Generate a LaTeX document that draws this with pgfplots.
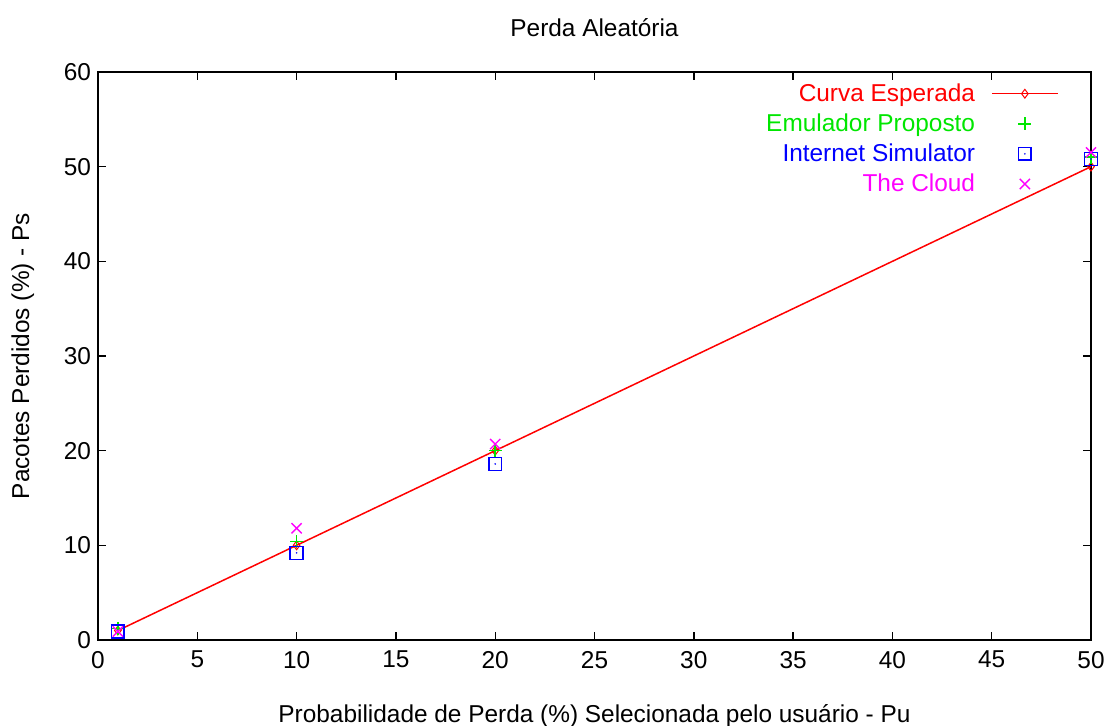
\documentclass[border=0pt]{standalone}
\usepackage{pgfplots}
\pgfplotsset{compat=1.18}
\usepackage{fontspec}
\setmainfont{Liberation Sans}
\definecolor{gred}{RGB}{255,0,0}
\definecolor{ggreen}{RGB}{0,230,0}
\definecolor{gblue}{RGB}{0,0,255}
\definecolor{gmag}{RGB}{255,0,255}
\pgfdeclareplotmark{sqdot}{%
  \pgfpathrectangle{\pgfqpoint{-\pgfplotmarksize}{-\pgfplotmarksize}}{\pgfqpoint{2\pgfplotmarksize}{2\pgfplotmarksize}}%
  \pgfusepathqstroke
  \pgfpathcircle{\pgfpointorigin}{0.45pt}\pgfusepathqfill}
\begin{document}
\begin{tikzpicture}
\useasboundingbox (-49pt,-43pt) rectangle (504.5pt,320pt);
\begin{axis}[
  at={(0,0)}, anchor=south west,
  scale only axis, width=496.5pt, height=284pt,
  xmin=0, xmax=50, ymin=0, ymax=60,
  xtick={0,5,...,50}, ytick={0,10,...,60},
  tick align=inside, major tick length=4pt,
  axis line style={line width=0.8pt},
  every tick/.style={black, line width=0.7pt},
  font=\fontsize{12.2}{14}\selectfont,
  /pgf/number format/assume math mode=true,
  xticklabel style={yshift=-2pt},
  yticklabel style={xshift=0pt},
  title={Perda Aleatória},
  title style={yshift=8pt},
  xlabel={Probabilidade de Perda (\%) Selecionada pelo usuário - Pu},
  ylabel={Pacotes Perdidos (\%) - Ps},
  xlabel style={yshift=-11pt},
  ylabel style={yshift=8pt},
  legend plot pos=right,
  legend cell align=right,
  legend image code/.code={\draw[mark repeat=2,mark phase=2,#1] plot coordinates {(0pt,0pt) (16.5pt,0pt) (33pt,0pt)};},
  legend style={at={(1,1)}, anchor=north east, xshift=-13pt, yshift=-1.5pt,
    draw=none, fill=none, font=\fontsize{12.2}{14}\selectfont,
    row sep=0.7pt},
]
\addplot[gred, line width=0.75pt, mark=diamond, mark size=2.2pt, mark options={solid, line width=0.5pt}]
  coordinates {(1,1) (10,10) (20,20) (50,50)};
\addlegendentry{\textcolor{gred}{Curva Esperada}\hspace*{6pt}}
\addplot[only marks, ggreen, mark=+, mark size=3.2pt, mark options={line width=0.8pt}]
  coordinates {(1,1.2) (10,10.4) (20,20.0) (50,51.0)};
\addlegendentry{\textcolor{ggreen}{Emulador Proposto}\hspace*{6pt}}
\addplot[only marks, gblue, mark=sqdot, mark size=3.2pt, mark options={line width=0.8pt}]
  coordinates {(1,0.9) (10,9.2) (20,18.6) (50,50.8)};
\addlegendentry{\textcolor{gblue}{Internet Simulator}\hspace*{6pt}}
\addplot[only marks, gmag, mark=x, mark size=3.6pt, mark options={line width=0.7pt}]
  coordinates {(1,0.9) (10,11.8) (20,20.7) (50,51.5)};
\addlegendentry{\textcolor{gmag}{The Cloud}\hspace*{6pt}}
\end{axis}
\end{tikzpicture}
\end{document}
